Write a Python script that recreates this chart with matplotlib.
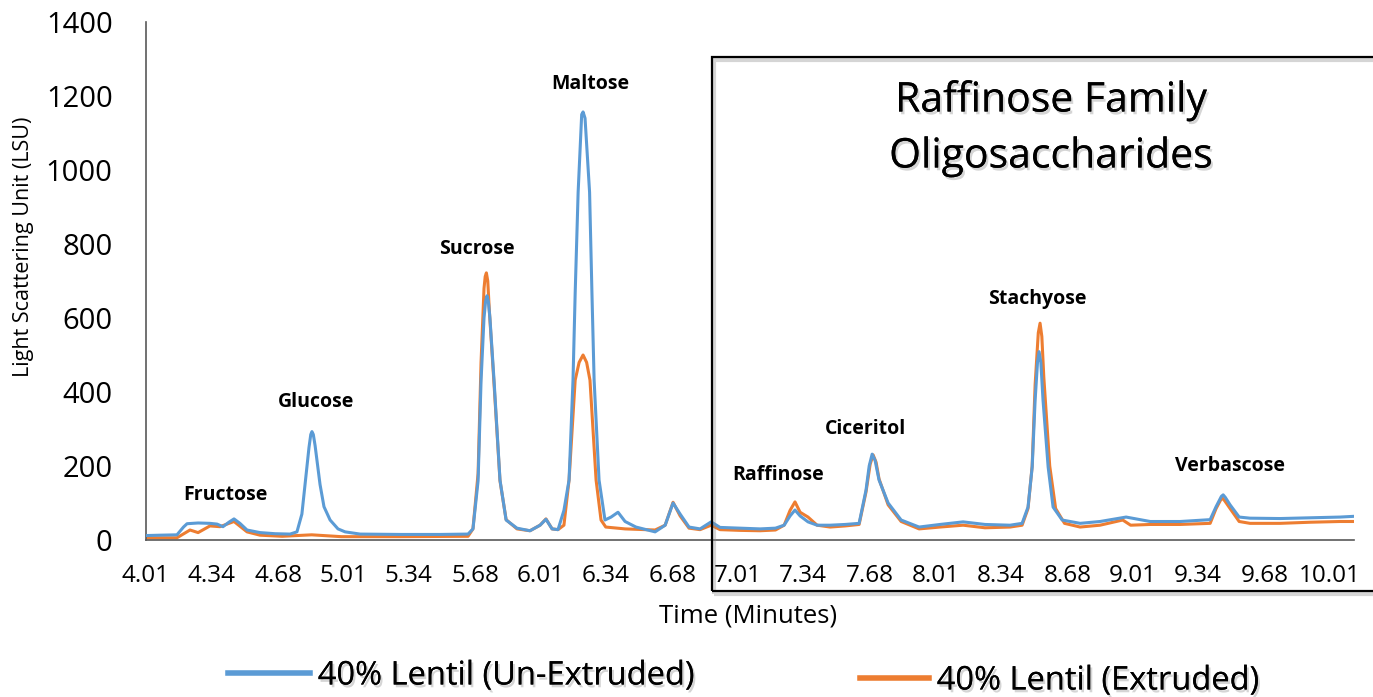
import matplotlib
matplotlib.use("Agg")
import matplotlib.pyplot as plt
import matplotlib.patheffects as pe
from matplotlib.patches import Rectangle

plt.rcParams['font.family'] = ['Open Sans', 'DejaVu Sans']

# ---- data ----
time_unext = [4.010, 4.081, 4.167, 4.200, 4.218, 4.274, 4.334, 4.370, 4.400, 4.430,
              4.456, 4.486, 4.522, 4.588, 4.664, 4.740, 4.775, 4.800, 4.816, 4.836,
              4.845, 4.851, 4.858, 4.867, 4.892, 4.912, 4.943, 4.983, 5.019, 5.095,
              5.300, 5.500, 5.642, 5.667, 5.693, 5.708, 5.723, 5.731, 5.738, 5.745,
              5.753, 5.774, 5.804, 5.835, 5.890, 5.956, 6.007, 6.037, 6.068, 6.098,
              6.128, 6.154, 6.174, 6.185, 6.200, 6.218, 6.225, 6.235, 6.258, 6.270,
              6.281, 6.306, 6.336, 6.367, 6.402, 6.438, 6.493, 6.590, 6.641, 6.681,
              6.717, 6.762, 6.818, 6.874, 6.919, 7.021, 7.122, 7.200, 7.244, 7.274,
              7.299, 7.325, 7.365, 7.411, 7.477, 7.553, 7.624, 7.659, 7.675, 7.690,
              7.705, 7.725, 7.771, 7.837, 7.928, 8.034, 8.151, 8.262, 8.389, 8.450,
              8.480, 8.501, 8.516, 8.528, 8.536, 8.545, 8.556, 8.582, 8.607, 8.653,
              8.744, 8.845, 8.977, 9.099, 9.251, 9.403, 9.433, 9.460, 9.469, 9.480,
              9.504, 9.550, 9.605, 9.757, 9.909, 10.061, 10.132]
lsu_unext = [12, 13, 14, 35, 44, 46, 45, 43, 36, 48,
             57, 45, 27, 20, 17, 16, 22, 70, 150, 250,
             285, 293, 285, 255, 150, 90, 54, 30, 22, 16,
             15, 15, 16, 30, 160, 430, 600, 645, 660, 645,
             600, 430, 162, 54, 32, 25, 40, 56, 30, 28,
             80, 162, 432, 667, 940, 1150, 1157, 1140, 940, 667,
             432, 162, 54, 62, 75, 50, 35, 22, 40, 100,
             70, 35, 30, 49, 34, 32, 30, 32, 40, 65,
             81, 65, 49, 40, 40, 42, 45, 135, 200, 232,
             215, 162, 100, 54, 35, 42, 49, 42, 40, 45,
             89, 197, 378, 480, 509, 480, 378, 197, 89, 54,
             45, 50, 62, 50, 50, 55, 90, 118, 122, 115,
             95, 62, 59, 58, 60, 62, 64]

time_ext = [4.010, 4.167, 4.233, 4.274, 4.334, 4.385, 4.456, 4.522, 4.588, 4.700,
            4.850, 5.000, 5.300, 5.642, 5.667, 5.693, 5.708, 5.723, 5.729, 5.735,
            5.742, 5.750, 5.774, 5.804, 5.835, 5.890, 5.956, 6.007, 6.037, 6.068,
            6.098, 6.128, 6.154, 6.185, 6.205, 6.225, 6.243, 6.260, 6.291, 6.316,
            6.340, 6.438, 6.590, 6.641, 6.681, 6.717, 6.762, 6.818, 6.874, 6.919,
            7.021, 7.122, 7.200, 7.244, 7.274, 7.299, 7.325, 7.365, 7.411, 7.477,
            7.553, 7.624, 7.659, 7.680, 7.695, 7.710, 7.725, 7.771, 7.837, 7.928,
            8.034, 8.151, 8.262, 8.389, 8.450, 8.480, 8.501, 8.516, 8.532, 8.541,
            8.550, 8.560, 8.590, 8.620, 8.665, 8.744, 8.845, 8.960, 9.000, 9.099,
            9.251, 9.403, 9.433, 9.458, 9.466, 9.478, 9.504, 9.550, 9.605, 9.757,
            9.909, 10.061, 10.132]
lsu_ext = [6, 6, 27, 20, 38, 36, 50, 22, 13, 10,
           14, 9, 9, 10, 30, 180, 480, 680, 712, 722,
           700, 620, 420, 160, 55, 30, 25, 40, 57, 30,
           28, 40, 162, 432, 480, 500, 480, 432, 162, 54,
           35, 30, 27, 40, 102, 65, 32, 28, 40, 28,
           26, 25, 27, 40, 80, 103, 75, 62, 40, 35,
           38, 42, 130, 205, 230, 210, 165, 95, 50, 30,
           35, 40, 33, 35, 40, 85, 200, 420, 560, 586,
           550, 440, 200, 85, 45, 35, 40, 54, 40, 42,
           42, 45, 85, 110, 113, 105, 85, 50, 45, 45,
           48, 50, 50]

x_tick_labels = ['4.01', '4.34', '4.68', '5.01', '5.34', '5.68', '6.01', '6.34', '6.68',
                 '7.01', '7.34', '7.68', '8.01', '8.34', '8.68', '9.01', '9.34', '9.68', '10.01']
y_ticks = [0, 200, 400, 600, 800, 1000, 1200, 1400]

peak_names = ['Fructose', 'Glucose', 'Sucrose', 'Maltose', 'Raffinose',
              'Ciceritol', 'Stachyose', 'Verbascose']
peak_label_t = [4.415, 4.872, 5.688, 6.260, 7.213, 7.654, 8.526, 9.504]
peak_label_v = [122, 373, 786, 1232, 176, 300, 651, 200]

series_names = ['40% Lentil (Un-Extruded)', '40% Lentil (Extruded)']
BLUE = '#5B9BD5'
ORANGE = '#ED7D31'

W, H = 1373, 697
fig = plt.figure(figsize=(W / 100, H / 100), dpi=100)
ax = fig.add_axes([146 / W, 1 - 540 / H, (1354 - 146) / W, (540 - 22) / H])

l_ext, = ax.plot(time_ext, lsu_ext, color=ORANGE, lw=2.2, solid_joinstyle='round', zorder=2)
l_un, = ax.plot(time_unext, lsu_unext, color=BLUE, lw=2.2, solid_joinstyle='round', zorder=3)

ax.set_xlim(4.01, 10.132)
ax.set_ylim(0, 1400)
ax.set_xticks([float(s) for s in x_tick_labels])
ax.set_xticklabels(x_tick_labels)
ax.set_yticks(y_ticks)
ax.tick_params(axis='x', length=0, pad=17, labelsize=17.5)
ax.tick_params(axis='y', length=0, pad=24, labelsize=21)
for s in ['top', 'right']:
    ax.spines[s].set_visible(False)
for s in ['left', 'bottom']:
    ax.spines[s].set_color('#595959')
    ax.spines[s].set_linewidth(1.2)

ax.set_xlabel('Time (Minutes)', fontsize=18.5)
ax.xaxis.set_label_coords((748 - 146) / (1354 - 146), (540 - 616) / 518)
ax.xaxis.label.set_va('center')
ax.set_ylabel('Light Scattering Unit (LSU)', fontsize=15.5)
ax.yaxis.set_label_coords((24 - 146) / (1354 - 146), (540 - 247) / 518)
ax.yaxis.label.set_va('center')

for name, t, v in zip(peak_names, peak_label_t, peak_label_v):
    ax.text(t, v, name, ha='center', va='center', fontsize=14, fontweight='bold', zorder=5)

text_shadow = [pe.withSimplePatchShadow(offset=(1.5, -2), shadow_rgbFace='#888888', alpha=0.35),
               pe.Normal()]
line_shadow = [pe.SimpleLineShadow(offset=(1.5, -2.5), shadow_color='#888888', alpha=0.35,
                                   linewidth=3), pe.Normal()]

box = Rectangle((712 / W, 1 - 591 / H), (1385 - 712) / W, (591 - 57) / H,
                transform=fig.transFigure, fill=False, edgecolor='black', lw=1.6,
                zorder=10, path_effects=line_shadow)
fig.add_artist(box)
fig.text(1051 / W, 1 - 101 / H, 'Raffinose Family', ha='center', va='center',
         fontsize=29.5, path_effects=text_shadow)
fig.text(1051 / W, 1 - 157 / H, 'Oligosaccharides', ha='center', va='center',
         fontsize=29.5, path_effects=text_shadow)

leg1 = fig.legend([l_un], [series_names[0]], loc='center left',
                  bbox_to_anchor=(228 / W, 1 - 676 / H), frameon=False,
                  fontsize=23.5, handlelength=2.5, handletextpad=0.25, borderpad=0,
                  borderaxespad=0)
leg2 = fig.legend([l_ext], [series_names[1]], loc='center left',
                  bbox_to_anchor=(860 / W, 1 - 681 / H), frameon=False,
                  fontsize=23.5, handlelength=2.1, handletextpad=0.25, borderpad=0,
                  borderaxespad=0)
for lg in (leg1, leg2):
    for ln in lg.get_lines():
        ln.set_linewidth(4)
    for tx in lg.get_texts():
        tx.set_path_effects(text_shadow)

fig.savefig('out.png', dpi=100)
